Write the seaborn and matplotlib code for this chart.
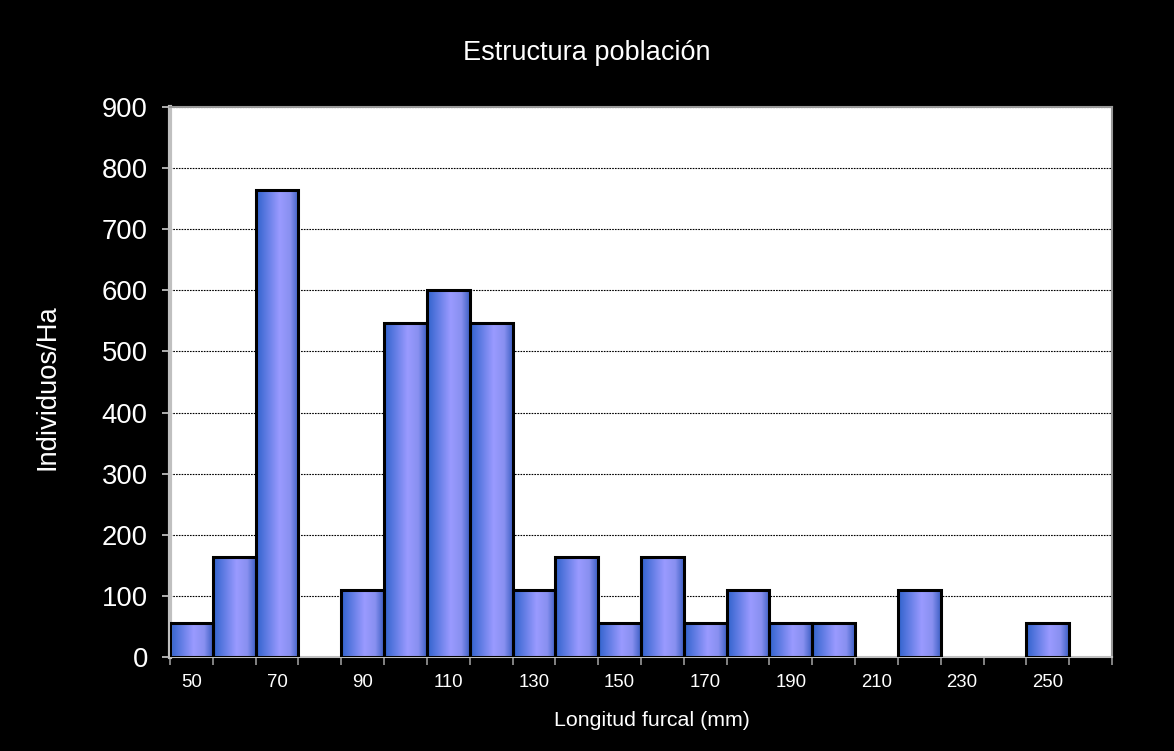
import numpy as np
import pandas as pd
import matplotlib
matplotlib.use('Agg')
import matplotlib.pyplot as plt
from matplotlib.colors import LinearSegmentedColormap
import seaborn as sns

# Data
longitud = [50, 60, 70, 80, 90, 100, 110, 120, 130, 140, 150,
            160, 170, 180, 190, 200, 210, 220, 230, 240, 250, 260]
individuos = [55, 164, 765, 0, 109, 546, 601, 546, 109, 164, 55,
              164, 55, 109, 55, 55, 0, 109, 0, 0, 55, 0]
tick_labels = ['50', '70', '90', '110', '130', '150', '170', '190', '210', '230', '250']

df = pd.DataFrame({'longitud': [str(v) for v in longitud], 'individuos': individuos})

sns.set_style('white')
plt.rcParams['font.family'] = ['Liberation Sans', 'DejaVu Sans']

fig = plt.figure(figsize=(11.74, 7.51), dpi=100, facecolor='black')
ax = fig.add_axes([0.1448, 0.1252, 0.9472 - 0.1448, 0.8575 - 0.1252])
ax.set_facecolor('white')

sns.barplot(data=df, x='longitud', y='individuos', order=df['longitud'],
            color='#6677ee', edgecolor='black', linewidth=2.2, width=1.0,
            saturation=1, ax=ax, zorder=3)

# cylinder-like horizontal gradient on every bar
grad_cmap = LinearSegmentedColormap.from_list(
    'bar', [(0, '#2f62cc'), (0.55, '#9a9aff'), (0.8, '#8890f0'), (1, '#3c5fc4')])
grad = np.linspace(0, 1, 256).reshape(1, -1)
for p in ax.patches:
    h = p.get_height()
    if h <= 0:
        p.set_visible(False)
        continue
    x0 = p.get_x()
    w = p.get_width()
    p.set_facecolor('none')
    im = ax.imshow(grad, cmap=grad_cmap, aspect='auto',
                   extent=[x0, x0 + w, 0, h], zorder=2.5)
    im.set_clip_path(p)

ax.set_xlim(-0.5, len(longitud) - 0.5)
ax.set_ylim(0, 900)
ax.set_yticks(range(0, 1000, 100))
ax.yaxis.grid(True, color='black', linestyle=(0, (1.5, 1)), linewidth=0.8, zorder=1)
ax.set_axisbelow(True)

# ticks at bar boundaries, labels at every other bar centre
ax.set_xticks(np.arange(-0.5, len(longitud), 1))
ax.set_xticklabels([])
ax.set_xticks(np.arange(0, len(longitud), 2), minor=True)
ax.set_xticklabels(tick_labels, minor=True)
ax.tick_params(axis='x', which='major', direction='out', length=6, width=1.2,
               color='#999999', bottom=True)
ax.tick_params(axis='x', which='minor', length=0, pad=12, labelsize=13.4,
               labelcolor='white')
ax.tick_params(axis='y', direction='out', length=6, width=1.2, color='#cccccc',
               left=True, pad=10, labelsize=19.8, labelcolor='white')

for s in ax.spines.values():
    s.set_color('#999999')
    s.set_linewidth(1.5)
ax.spines['left'].set_color('#c0c0c0')
ax.spines['left'].set_linewidth(3)
ax.spines['bottom'].set_color('#c0c0c0')

ax.set_xlabel('')
ax.set_ylabel('')
fig.text(0.5, 1 - 53 / 751, 'Estructura población', ha='center', va='center',
         color='white', fontsize=19.5)
fig.text(0.555, 1 - 720 / 751, 'Longitud furcal (mm)', ha='center', va='center',
         color='white', fontsize=15.4)
fig.text(48 / 1174, 1 - 387 / 751, 'Individuos/Ha', ha='center', va='center', rotation=90,
         color='white', fontsize=19.7)

fig.savefig('out.png', dpi=100, facecolor='black')
